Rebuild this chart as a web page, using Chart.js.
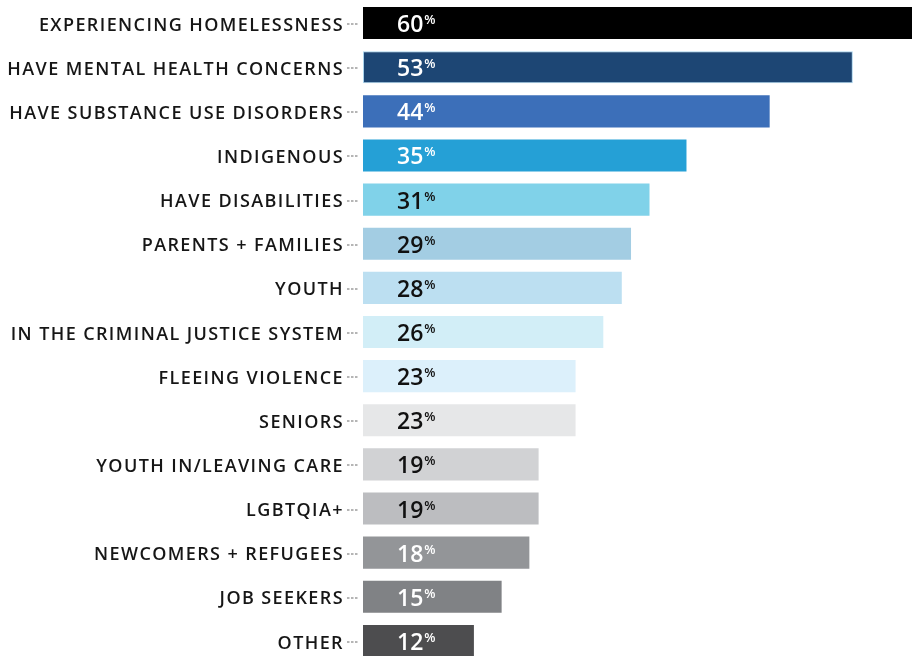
<!DOCTYPE html>
<html>
<head>
<meta charset="utf-8">
<script src="https://cdn.jsdelivr.net/npm/chart.js@4.4.1/dist/chart.umd.min.js"></script>
<style>
html,body{margin:0;padding:0;background:#fff;overflow:hidden;}
#wrap{position:relative;width:912px;height:663px;}
</style>
</head>
<body>
<div id="wrap"><canvas id="c"></canvas></div>
<script>
const categories = ["EXPERIENCING HOMELESSNESS","HAVE MENTAL HEALTH CONCERNS","HAVE SUBSTANCE USE DISORDERS","INDIGENOUS","HAVE DISABILITIES","PARENTS + FAMILIES","YOUTH","IN THE CRIMINAL JUSTICE SYSTEM","FLEEING VIOLENCE","SENIORS","YOUTH IN/LEAVING CARE","LGBTQIA+","NEWCOMERS + REFUGEES","JOB SEEKERS","OTHER"];
const values = [60,53,44,35,31,29,28,26,23,23,19,19,18,15,12];
const barColors = ["#000000","#1d4674","#3c6fb9","#25a0d6","#80d2e9","#a3cde3","#bcdff1","#d2eef7","#dcf0fb","#e6e7e8","#d1d2d4","#bcbdc0","#939598","#808285","#4d4d4f"];
const labelColors = ["#ffffff","#ffffff","#ffffff","#ffffff","#111111","#111111","#111111","#111111","#111111","#111111","#111111","#111111","#ffffff","#ffffff","#ffffff"];
const borderColors = barColors.map((c,i)=> i===1 ? "#a9d3ec" : c);
const borderWidths = values.map((v,i)=> i===1 ? 1 : 0);

const AXIS_W = 363;

const extras = {
  id:'extras',
  beforeDraw(chart){ chart.ctx.letterSpacing = '1.4px'; },
  beforeDatasetsDraw(chart){ chart.ctx.letterSpacing = '0px'; },
  afterDatasetsDraw(chart){
    const ctx = chart.ctx;
    const y = chart.scales.y;
    const left = chart.chartArea.left;
    ctx.save();
    ctx.letterSpacing = '0px';
    // dotted connectors
    ctx.strokeStyle = '#b5b5b5';
    ctx.lineWidth = 2;
    ctx.setLineDash([2.5,1.5]);
    y.ticks.forEach((t,i)=>{
      const py = Math.round(y.getPixelForTick(i)) + 1;
      ctx.beginPath();
      ctx.moveTo(left-16, py);
      ctx.lineTo(left-5, py);
      ctx.stroke();
    });
    ctx.setLineDash([]);
    // value labels
    const meta = chart.getDatasetMeta(0);
    meta.data.forEach((bar,i)=>{
      const num = String(values[i]);
      ctx.fillStyle = labelColors[i];
      ctx.textBaseline = 'alphabetic';
      ctx.textAlign = 'left';
      ctx.font = '600 23px "Open Sans"';
      const x0 = bar.base + 34;
      const base = bar.y + 9;
      ctx.fillText(num, x0, base);
      const w = ctx.measureText(num).width;
      ctx.font = '600 13px "Open Sans"';
      ctx.fillText('%', x0 + w + 1, base - 8);
    });
    ctx.restore();
  }
};

new Chart(document.getElementById('c'), {
  type:'bar',
  data:{
    labels: categories,
    datasets:[{
      data: values,
      backgroundColor: barColors,
      borderColor: borderColors,
      borderWidth: borderWidths,
      borderSkipped: false,
      barPercentage: 0.727,
      categoryPercentage: 1.0
    }]
  },
  options:{
    indexAxis:'y',
    responsive:true,
    maintainAspectRatio:false,
    animation:false,
    layout:{padding:{top:1,right:0,bottom:0,left:0}},
    plugins:{legend:{display:false},tooltip:{enabled:false}},
    scales:{
      x:{display:false,min:0,max:59.4},
      y:{
        afterFit(s){ s.width = AXIS_W; s.paddingTop = 0; s.paddingBottom = 0; },
        grid:{display:false, drawTicks:false},
        border:{display:false},
        ticks:{
          color:'#161616',
          padding:19,
          labelOffset:2.5,
          font:{family:'"Open Sans"',size:18,weight:'600'}
        }
      }
    }
  },
  plugins:[extras]
});
</script>
</body>
</html>
